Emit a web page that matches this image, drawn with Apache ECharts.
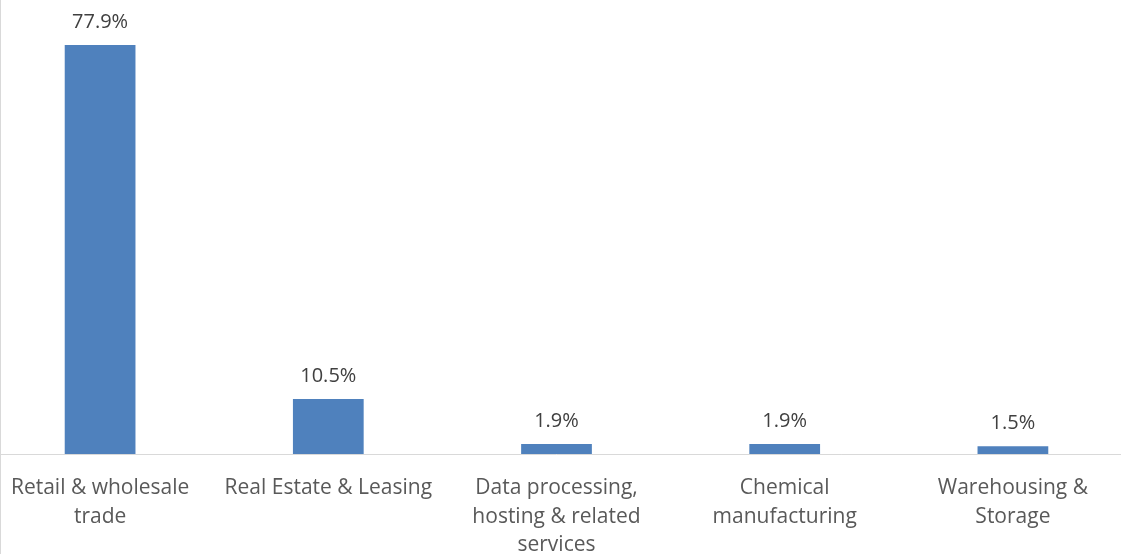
<!DOCTYPE html>
<html>
<head>
<meta charset="utf-8">
<script src="https://cdn.jsdelivr.net/npm/echarts@6/dist/echarts.min.js"></script>
<style>
html,body{margin:0;padding:0;background:#fff;overflow:hidden;}
#wrap{position:relative;width:1121px;height:554px;overflow:hidden;}
#c{position:absolute;left:-14.5px;top:0;width:1141px;height:554px;}
#vline{position:absolute;left:0;top:0;width:1px;height:554px;background:#d9d9d9;}
</style>
</head>
<body>
<div id="wrap"><div id="c"></div><div id="vline"></div></div>
<script>
const categories = [
  "Retail & wholesale\ntrade",
  "Real Estate & Leasing",
  "Data processing,\nhosting & related\nservices",
  "Chemical\nmanufacturing",
  "Warehousing &\nStorage"
];
const values = [77.9, 10.5, 1.9, 1.9, 1.5];

const chart = echarts.init(document.getElementById('c'), null, {renderer: 'canvas'});
const FONT = '"Open Sans", "Liberation Sans", sans-serif';
chart.setOption({
  animation: false,
  grid: {left: 0, right: 0, top: 34, bottom: 100, containLabel: false, outerBoundsMode: 'none'},
  xAxis: {
    type: 'category',
    data: categories,
    axisLine: {lineStyle: {color: '#d9d9d9', width: 1}},
    axisTick: {show: false},
    axisLabel: {
      interval: 0,
      color: '#595959',
      fontFamily: FONT,
      fontSize: 21,
      lineHeight: 28.5,
      margin: 20
    }
  },
  yAxis: {
    type: 'value',
    min: 0,
    max: 80,
    show: false,
    splitLine: {show: false}
  },
  series: [{
    type: 'bar',
    data: values,
    barWidth: '31%',
    itemStyle: {color: '#4f81bd'},
    label: {
      show: true,
      position: 'top',
      distance: 13,
      color: '#404040',
      fontFamily: FONT,
      fontSize: 20,
      formatter: p => p.value.toFixed(1) + '%'
    }
  }]
});
</script>
</body>
</html>
